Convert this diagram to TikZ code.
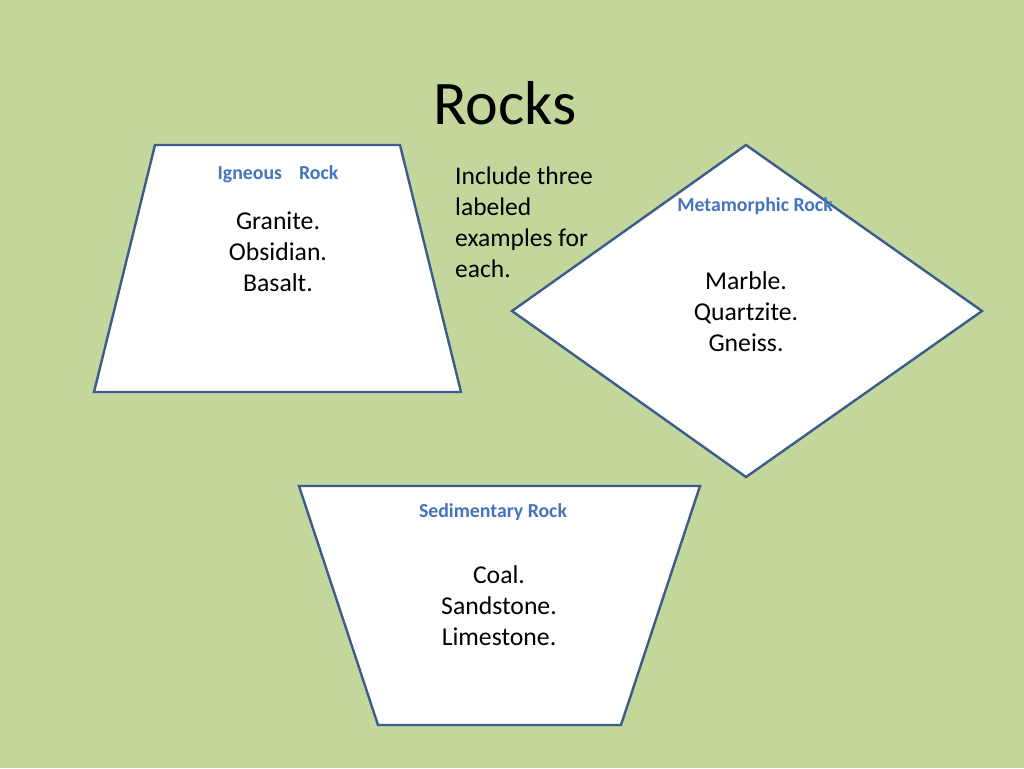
\documentclass[tikz,border=0pt]{standalone}
\usepackage{fontspec}
\setmainfont{Carlito}
\usetikzlibrary{positioning}
\definecolor{Pozadina}{HTML}{C3D69B}
\definecolor{Ivica}{HTML}{3B5C8C}
\definecolor{Zaglavlje}{HTML}{4573BC}
\tikzset{
  oblik/.style     = {draw=Ivica, line width=2.4pt, fill=white, line join=miter},
  zaglavlje/.style = {font=\fontsize{19.8}{23}\selectfont\bfseries, text=Zaglavlje, inner sep=0pt},
  primeri/.style   = {font=\fontsize{25.7}{31}\selectfont, align=center, inner sep=0pt},
}
\begin{document}
\begin{tikzpicture}[x=1pt, y=-1pt]
  % --- pozadina ---
  \fill[Pozadina] (0,0) rectangle (1024,768);
  \useasboundingbox (0,0) rectangle (1024,768);

  \node[font=\fontsize{62}{70}\selectfont, inner sep=0pt] at (505,103) (naslov) {Rocks};

  % --- magmatske stene ---
  \draw[oblik] (155,145) -- (400,145) -- (461,392) -- (94,392) -- cycle;
  \node[zaglavlje] at (278,174) (magZag) {Igneous\hspace{17pt}Rock};
  \node[primeri] at (278,252) (magPr) {Granite.\\Obsidian.\\Basalt.};

  % --- uputstvo ---
  \node[font=\fontsize{25.5}{31}\selectfont, align=left, inner sep=0pt, anchor=west]
        at (455,222) (uputa) {Include three\\labeled\\examples for\\each.};

  % --- metamorfne stene ---
  \draw[oblik] (746,145) -- (982,311) -- (746,477) -- (512,311) -- cycle;
  \node[zaglavlje] at (755,206) (metZag) {Metamorphic Rock};
  \node[primeri] at (746,312) (metPr) {Marble.\\Quartzite.\\Gneiss.};

  % --- sedimentne stene ---
  \draw[oblik] (299,486) -- (700,486) -- (621,725) -- (378,725) -- cycle;
  \node[zaglavlje] at (493,512) (sedZag) {Sedimentary Rock};
  \node[primeri] at (499,606) (sedPr) {Coal.\\Sandstone.\\Limestone.};
\end{tikzpicture}
\end{document}
